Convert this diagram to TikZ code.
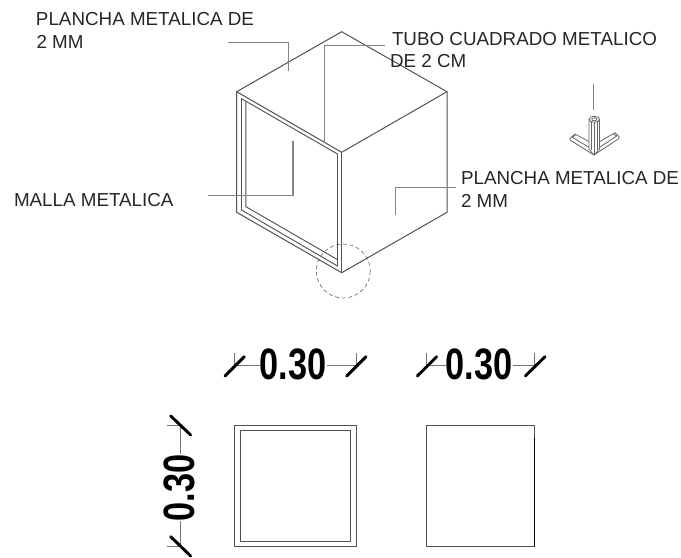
\documentclass[tikz,border=0pt]{standalone}
\usepackage{fontspec}
\usepackage{graphicx}
\setmainfont{Liberation Sans}
\tikzset{
  edge/.style={draw=black!68,line width=0.75pt,line join=miter},
  frameline/.style={draw=black!68,line width=0.7pt},
  leader/.style={draw=black!48,line width=0.95pt},
  thin dim/.style={draw=black!55,line width=0.6pt},
  slash/.style={draw=black,line width=2.2pt,line cap=round},
  label/.style={anchor=base west,inner sep=0pt,outer sep=0pt,font=\fontsize{14.1pt}{16pt}\selectfont,text=black!85},
  dimtext/.style={inner sep=0pt,outer sep=0pt,font=\fontsize{33pt}{33pt}\selectfont\bfseries},
  icon/.style={draw=black!60,line width=0.6pt,line join=round}
}
\newcommand{\dimval}{\scalebox{0.78}[1]{0.30}}
\begin{document}
\begin{tikzpicture}[x=0.75pt,y=-0.75pt]
\useasboundingbox (0,0) rectangle (681,557);
% cube
\draw[edge] (341.7,31.7) -- (447,91.7) -- (447,212.3) -- (341.7,272.7) -- (236.7,212.3) -- (236.7,91.7) -- cycle;
\draw[edge] (236.7,91.7) -- (341.7,152.3) -- (447,91.7);
\draw[edge] (341.7,152.3) -- (341.7,272.7);
\draw[frameline] (241.5,210) -- (241.5,98.7) -- (337.5,154) -- (337.5,266) -- cycle;
\draw[frameline] (245.8,101.3) -- (245.8,206.6) -- (337.5,259.6);
% detail circle
\draw[draw=black!60,line width=0.45pt,densely dashed] (343.3,271) circle (27);
% leaders
\draw[leader] (227.7,42.7) -- (288.3,42.7) -- (288.3,71);
\draw[leader] (385,45.7) -- (324.3,45.7) -- (324.3,143.3);
\draw[leader] (208.3,195.3) -- (293,195.3) -- (293,140.7);
\draw[leader] (456,187.3) -- (395.7,187.3) -- (395.7,215);
\draw[leader] (593.3,84) -- (593.3,109.5);
% labels
\node[label] (lplancha1a) at (36,25) {PLANCHA METALICA DE};
\node[label] (lplancha1b) at (36.5,48.3) {2 MM};
\node[label] (ltubo1) at (392,45) {TUBO CUADRADO METALICO};
\node[label] (ltubo2) at (390,67.3) {DE 2 CM};
\node[label] (lplancha2a) at (461,184) {PLANCHA METALICA DE};
\node[label] (lplancha2b) at (461,207) {2 MM};
\node[label] (lmalla) at (14,206) {MALLA METALICA};
% icon
\draw[icon] (589,119.3) -- (589,149) -- (594,155) -- (599.5,149) -- (599.5,119.3);
\draw[icon] (594,122.3) -- (594,155);
\draw[icon] (591.5,122) -- (591.5,150);
\draw[icon] (597,122) -- (597,150);
\draw[icon] (594.3,119.3) circle [x radius=5.3,y radius=3];
\draw[icon] (594.3,119.3) circle [x radius=2.6,y radius=1.5];
\draw[icon] (589,141.7) -- (575,134) -- (570,138.3) -- (570,140) -- (594,155);
\draw[icon] (572.3,137.3) -- (575.5,135) (572.3,137.3) -- (589,147.3);
\draw[icon] (599.5,141.7) -- (615,132.7) -- (619,136.7) -- (619,138.5) -- (594,155);
\draw[icon] (616.7,136) -- (613.5,134) (616.7,136) -- (599.5,147.3);
% horizontal dimension 1
\node[dimtext] (d1) at (293.3,364.2) {\dimval};
\coordinate (d1l) at (234.3,365.7);
\coordinate (d1r) at (356,365.7);
\draw[thin dim] (234.3,353) -- (d1l) -- (d1.west |- d1l);
\draw[thin dim] (d1.east |- d1r) -- (d1r) -- (356,353);
\draw[slash] (225,376) -- (244.3,356.7);
\draw[slash] (346.7,376) -- (366,356.7);
% horizontal dimension 2
\node[dimtext] (d2) at (479.2,364.2) {\dimval};
\coordinate (d2l) at (426.7,365.7);
\coordinate (d2r) at (534.6,365.7);
\draw[thin dim] (426.7,353) -- (d2l) -- (d2.west |- d2l);
\draw[thin dim] (d2.east |- d2r) -- (d2r) -- (534.6,353);
\draw[slash] (417.3,376) -- (436.7,356.7);
\draw[slash] (525.3,376) -- (545,356.7);
% vertical dimension
\node[dimtext,rotate=90] (d3) at (179.2,487.7) {\dimval};
\coordinate (d3t) at (180.7,425);
\coordinate (d3b) at (180.7,546.7);
\draw[thin dim] (167.3,425) -- (d3t) -- (d3t |- d3.east);
\draw[thin dim] (d3b |- d3.west) -- (d3b) -- (167.3,546.7);
\draw[slash] (170.7,416) -- (190.7,435);
\draw[slash] (170.7,536.7) -- (190.7,556);
% square 1
\draw[edge] (234.3,425) rectangle (356,546.7);
\draw[edge] (240,430.7) rectangle (350.7,541);
% square 2
\draw[edge] (426.7,425) rectangle (534.3,546.7);
\draw[draw=black,line width=0.8pt] (534.3,438) -- (534.3,546.7);
\end{tikzpicture}
\end{document}
